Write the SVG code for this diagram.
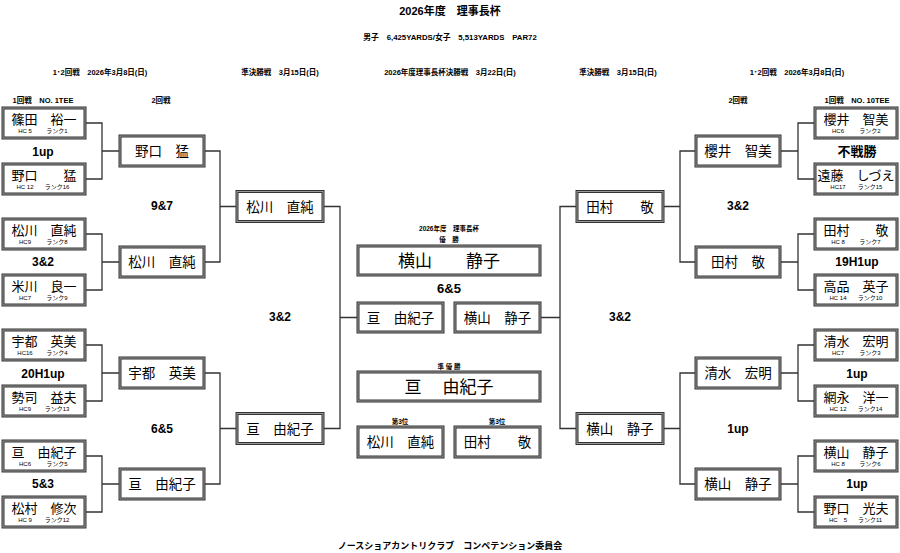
<svg xmlns="http://www.w3.org/2000/svg" width="900" height="553" viewBox="0 0 900 553">
<style>
.bg{fill:#ffffff}
.box{fill:#ffffff;stroke:#333333;stroke-width:3}
.boxin{fill:none;stroke:#9a9a9a;stroke-width:1}
.ln{fill:none;stroke:#333333;stroke-width:1.3}
.t{font-family:"Liberation Sans","Noto Sans CJK JP",sans-serif;font-weight:bold;fill:#000;text-anchor:middle}
.nm{font-family:"Noto Sans CJK JP",sans-serif;fill:#000;text-anchor:middle}
.n1{font-size:13px}
.n2{font-size:13.5px}
.n3{font-size:17px}
.hc{font-family:"Liberation Sans","Noto Sans CJK JP",sans-serif;font-size:6px;fill:#000;text-anchor:middle}
.sc{font-size:12px}
.hd{font-size:7.5px}
</style>
<rect class="bg" x="0" y="0" width="900" height="553"/>
<g id="header">
<text class="t" x="450" y="15" font-size="11">2026年度　理事長杯</text>
<text class="t" x="450" y="40" font-size="7.8">男子　6,425YARDS/女子　5,513YARDS　PAR72</text>
<text class="t hd" x="100" y="75">1･2回戦　2026年3月8日(日)</text>
<text class="t hd" x="280" y="75">準決勝戦　3月15日(日)</text>
<text class="t hd" x="450" y="75">2026年度理事長杯決勝戦　3月22日(日)</text>
<text class="t hd" x="618" y="75">準決勝戦　3月15日(日)</text>
<text class="t hd" x="797" y="75">1･2回戦　2026年3月8日(日)</text>
<text class="t hd" x="43" y="103">1回戦　NO. 1TEE</text>
<text class="t hd" x="161" y="103">2回戦</text>
<text class="t hd" x="738" y="103">2回戦</text>
<text class="t hd" x="857" y="103">1回戦　NO. 10TEE</text>
</g>
<g id="connectors">
<path class="ln" d="M85 123H102V179H85M102 151H120"/>
<path class="ln" d="M85 234H102V290H85M102 262H120"/>
<path class="ln" d="M85 345H102V401H85M102 373H120"/>
<path class="ln" d="M85 456H102V512H85M102 484H120"/>
<path class="ln" d="M204 151H220V262H204M220 206.5H237"/>
<path class="ln" d="M204 373H220V484H204M220 428.5H237"/>
<path class="ln" d="M323 206.5H340V428.5H323M340 317.5H358"/>
<path class="ln" d="M815 123H798V179H815M798 151H780"/>
<path class="ln" d="M815 234H798V290H815M798 262H780"/>
<path class="ln" d="M815 345H798V401H815M798 373H780"/>
<path class="ln" d="M815 456H798V512H815M798 484H780"/>
<path class="ln" d="M696 151H680V262H696M680 206.5H663"/>
<path class="ln" d="M696 373H680V484H696M680 428.5H663"/>
<path class="ln" d="M577 206.5H560V428.5H577M560 317.5H540"/>
</g>
<g id="L1a"><rect class="box" x="3" y="108" width="82" height="30"/><rect class="boxin" x="3" y="108" width="82" height="30"/><text class="nm n1" x="44" y="124">篠田　裕一</text><text class="hc" x="25" y="133">HC 5</text><text class="hc" x="57" y="133">ランク1</text></g>
<g id="L1b"><rect class="box" x="3" y="164" width="82" height="30"/><rect class="boxin" x="3" y="164" width="82" height="30"/><text class="nm n1" x="44" y="180">野口　　猛</text><text class="hc" x="25" y="189">HC 12</text><text class="hc" x="57" y="189">ランク16</text></g>
<g id="L1c"><rect class="box" x="3" y="219" width="82" height="30"/><rect class="boxin" x="3" y="219" width="82" height="30"/><text class="nm n1" x="44" y="235">松川　直純</text><text class="hc" x="25" y="244">HC9</text><text class="hc" x="57" y="244">ランク8</text></g>
<g id="L1d"><rect class="box" x="3" y="275" width="82" height="30"/><rect class="boxin" x="3" y="275" width="82" height="30"/><text class="nm n1" x="44" y="291">米川　良一</text><text class="hc" x="25" y="300">HC7</text><text class="hc" x="57" y="300">ランク9</text></g>
<g id="L1e"><rect class="box" x="3" y="330" width="82" height="30"/><rect class="boxin" x="3" y="330" width="82" height="30"/><text class="nm n1" x="44" y="346">宇都　英美</text><text class="hc" x="25" y="355">HC16</text><text class="hc" x="57" y="355">ランク4</text></g>
<g id="L1f"><rect class="box" x="3" y="386" width="82" height="30"/><rect class="boxin" x="3" y="386" width="82" height="30"/><text class="nm n1" x="44" y="402">勢司　益夫</text><text class="hc" x="25" y="411">HC9</text><text class="hc" x="57" y="411">ランク13</text></g>
<g id="L1g"><rect class="box" x="3" y="441" width="82" height="30"/><rect class="boxin" x="3" y="441" width="82" height="30"/><text class="nm n1" x="44" y="457">亘　由紀子</text><text class="hc" x="25" y="466">HC6</text><text class="hc" x="57" y="466">ランク5</text></g>
<g id="L1h"><rect class="box" x="3" y="497" width="82" height="30"/><rect class="boxin" x="3" y="497" width="82" height="30"/><text class="nm n1" x="44" y="513">松村　修次</text><text class="hc" x="25" y="522">HC 9</text><text class="hc" x="57" y="522">ランク12</text></g>
<g id="L2a"><rect class="box" x="120" y="136" width="84" height="30"/><rect class="boxin" x="120" y="136" width="84" height="30"/><text class="nm n2" x="162" y="156">野口　猛</text></g>
<g id="L2b"><rect class="box" x="120" y="247" width="84" height="30"/><rect class="boxin" x="120" y="247" width="84" height="30"/><text class="nm n2" x="162" y="267">松川　直純</text></g>
<g id="L2c"><rect class="box" x="120" y="358" width="84" height="30"/><rect class="boxin" x="120" y="358" width="84" height="30"/><text class="nm n2" x="162" y="378">宇都　英美</text></g>
<g id="L2d"><rect class="box" x="120" y="469" width="84" height="30"/><rect class="boxin" x="120" y="469" width="84" height="30"/><text class="nm n2" x="162" y="489">亘　由紀子</text></g>
<g id="LSa"><rect class="box" x="237" y="191.5" width="86" height="30"/><rect class="boxin" x="237" y="191.5" width="86" height="30"/><text class="nm n2" x="280" y="211.5">松川　直純</text></g>
<g id="LSb"><rect class="box" x="237" y="413.5" width="86" height="30"/><rect class="boxin" x="237" y="413.5" width="86" height="30"/><text class="nm n2" x="280" y="433.5">亘　由紀子</text></g>
<g id="FL"><rect class="box" x="358" y="303" width="85" height="29"/><rect class="boxin" x="358" y="303" width="85" height="29"/><text class="nm n2" x="400.5" y="322.5">亘　由紀子</text></g>
<g id="FR"><rect class="box" x="455" y="303" width="85" height="29"/><rect class="boxin" x="455" y="303" width="85" height="29"/><text class="nm n2" x="497.5" y="322.5">横山　静子</text></g>
<g id="RSa"><rect class="box" x="577" y="191.5" width="86" height="30"/><rect class="boxin" x="577" y="191.5" width="86" height="30"/><text class="nm n2" x="620" y="211.5">田村　　敬</text></g>
<g id="RSb"><rect class="box" x="577" y="413.5" width="86" height="30"/><rect class="boxin" x="577" y="413.5" width="86" height="30"/><text class="nm n2" x="620" y="433.5">横山　静子</text></g>
<g id="R2a"><rect class="box" x="696" y="136" width="84" height="30"/><rect class="boxin" x="696" y="136" width="84" height="30"/><text class="nm n2" x="738" y="156">櫻井　智美</text></g>
<g id="R2b"><rect class="box" x="696" y="247" width="84" height="30"/><rect class="boxin" x="696" y="247" width="84" height="30"/><text class="nm n2" x="738" y="267">田村　敬</text></g>
<g id="R2c"><rect class="box" x="696" y="358" width="84" height="30"/><rect class="boxin" x="696" y="358" width="84" height="30"/><text class="nm n2" x="738" y="378">清水　宏明</text></g>
<g id="R2d"><rect class="box" x="696" y="469" width="84" height="30"/><rect class="boxin" x="696" y="469" width="84" height="30"/><text class="nm n2" x="738" y="489">横山　静子</text></g>
<g id="R1a"><rect class="box" x="815" y="108" width="82" height="30"/><rect class="boxin" x="815" y="108" width="82" height="30"/><text class="nm n1" x="856" y="124">櫻井　智美</text><text class="hc" x="838" y="133">HC6</text><text class="hc" x="870" y="133">ランク2</text></g>
<g id="R1b"><rect class="box" x="815" y="164" width="82" height="30"/><rect class="boxin" x="815" y="164" width="82" height="30"/><text class="nm n1" x="856" y="180">遠藤　しづえ</text><text class="hc" x="838" y="189">HC17</text><text class="hc" x="870" y="189">ランク15</text></g>
<g id="R1c"><rect class="box" x="815" y="219" width="82" height="30"/><rect class="boxin" x="815" y="219" width="82" height="30"/><text class="nm n1" x="856" y="235">田村　　敬</text><text class="hc" x="838" y="244">HC 8</text><text class="hc" x="870" y="244">ランク7</text></g>
<g id="R1d"><rect class="box" x="815" y="275" width="82" height="30"/><rect class="boxin" x="815" y="275" width="82" height="30"/><text class="nm n1" x="856" y="291">高品　英子</text><text class="hc" x="838" y="300">HC 14</text><text class="hc" x="870" y="300">ランク10</text></g>
<g id="R1e"><rect class="box" x="815" y="330" width="82" height="30"/><rect class="boxin" x="815" y="330" width="82" height="30"/><text class="nm n1" x="856" y="346">清水　宏明</text><text class="hc" x="838" y="355">HC7</text><text class="hc" x="870" y="355">ランク3</text></g>
<g id="R1f"><rect class="box" x="815" y="386" width="82" height="30"/><rect class="boxin" x="815" y="386" width="82" height="30"/><text class="nm n1" x="856" y="402">網永　洋一</text><text class="hc" x="838" y="411">HC 12</text><text class="hc" x="870" y="411">ランク14</text></g>
<g id="R1g"><rect class="box" x="815" y="441" width="82" height="30"/><rect class="boxin" x="815" y="441" width="82" height="30"/><text class="nm n1" x="856" y="457">横山　静子</text><text class="hc" x="838" y="466">HC 8</text><text class="hc" x="870" y="466">ランク6</text></g>
<g id="R1h"><rect class="box" x="815" y="497" width="82" height="30"/><rect class="boxin" x="815" y="497" width="82" height="30"/><text class="nm n1" x="856" y="513">野口　光夫</text><text class="hc" x="838" y="522">HC　5</text><text class="hc" x="870" y="522">ランク11</text></g>
<g id="champion">
<text class="t" x="449" y="231" font-size="6.5">2026年度　理事長杯</text>
<text class="t" x="449" y="242" font-size="6.5">優　勝</text>
<rect class="box" x="358" y="246" width="182" height="29"/><rect class="boxin" x="358" y="246" width="182" height="29"/>
<text class="nm n3" x="449" y="266.5">横山　　静子</text>
</g>
<g id="runnerup">
<text class="t" x="449" y="368.5" font-size="6.5">準 優 勝</text>
<rect class="box" x="358" y="372" width="182" height="29"/><rect class="boxin" x="358" y="372" width="182" height="29"/>
<text class="nm n3" x="449" y="392.5">亘　 由紀子</text>
</g>
<g id="third1">
<text class="t" x="400" y="424" font-size="6.5">第3位</text>
<rect class="box" x="358" y="427" width="85" height="30"/><rect class="boxin" x="358" y="427" width="85" height="30"/>
<text class="nm n2" x="400.5" y="447">松川　直純</text>
</g>
<g id="third2">
<text class="t" x="497" y="424" font-size="6.5">第3位</text>
<rect class="box" x="455" y="427" width="85" height="30"/><rect class="boxin" x="455" y="427" width="85" height="30"/>
<text class="nm n2" x="497.5" y="447">田村　　敬</text>
</g>
<g id="scores">
<text class="t sc" x="43" y="155.5">1up</text>
<text class="t sc" x="162" y="210">9&amp;7</text>
<text class="t sc" x="43" y="266">3&amp;2</text>
<text class="t sc" x="280" y="321">3&amp;2</text>
<text class="t sc" x="43" y="377.5">20H1up</text>
<text class="t sc" x="162" y="432.5">6&amp;5</text>
<text class="t sc" x="43" y="488">5&amp;3</text>
<text class="t" x="857" y="156" font-size="13">不戦勝</text>
<text class="t sc" x="738" y="210">3&amp;2</text>
<text class="t sc" x="857" y="266">19H1up</text>
<text class="t sc" x="620" y="321">3&amp;2</text>
<text class="t sc" x="857" y="377.5">1up</text>
<text class="t sc" x="738" y="433">1up</text>
<text class="t sc" x="857" y="488">1up</text>
<text class="t" x="449" y="293" font-size="13">6&amp;5</text>
</g>
<g id="footer">
<text class="t" x="450" y="549" font-size="9">ノースショアカントリクラブ　コンペテンション委員会</text>
</g>
</svg>
